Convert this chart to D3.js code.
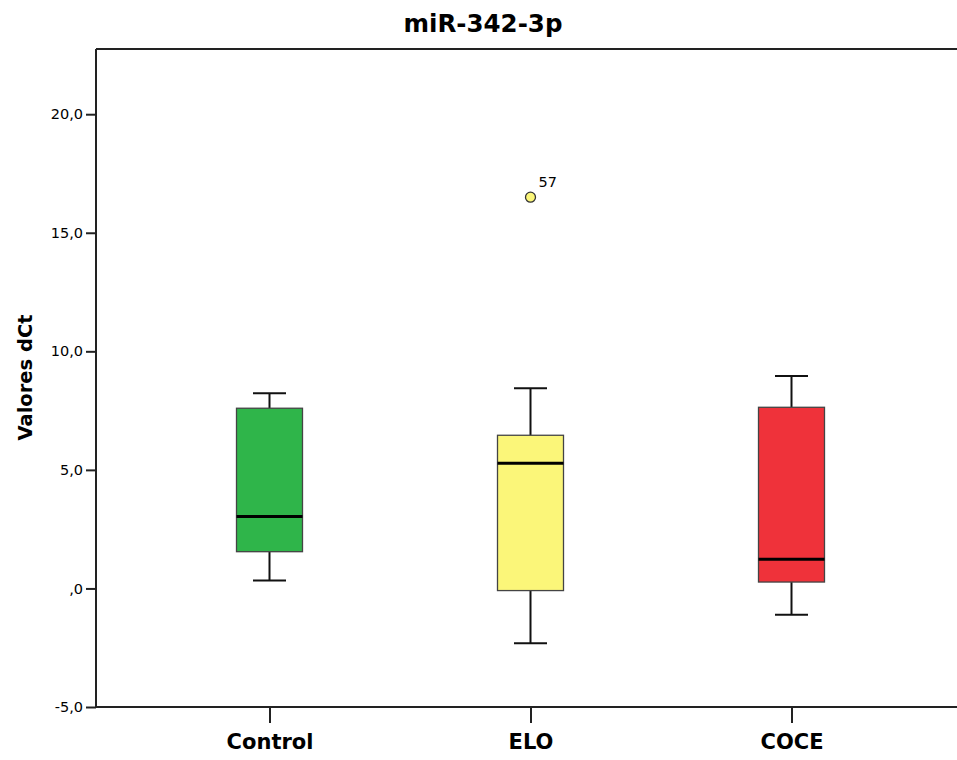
<!DOCTYPE html>
<html>
<head>
<meta charset="utf-8">
<script src="https://cdn.jsdelivr.net/npm/d3@7/dist/d3.min.js"></script>
<style>
  html, body { margin: 0; padding: 0; background: #fff; }
  svg { display: block; }
  text { font-family: "DejaVu Sans", sans-serif; fill: #000; }
</style>
</head>
<body>
<svg id="chart" width="957" height="760"></svg>
<script>
// ---- data ----
const categories = ["Control", "ELO", "COCE"];
const whiskerLow  = [0.33, -2.31, -1.11];
const q1          = [1.55, -0.09, 0.27];
const median      = [3.03, 5.28, 1.23];
const q3          = [7.60, 6.46, 7.64];
const whiskerHigh = [8.23, 8.44, 8.96];
const boxColors   = ["#2fb54a", "#fbf679", "#ef323a"];
const outlierGroup = ["ELO"];
const outlierValue = [16.5];
const outlierLabel = ["57"];
const yTicks = [-5, 0, 5, 10, 15, 20];
const yTickLabels = ["-5,0", ",0", "5,0", "10,0", "15,0", "20,0"];

const svg = d3.select("#chart");
const mLeft = 96, mRight = 957, mTop = 49, mBottom = 707;

const y = d3.scaleLinear().domain([-5, 22.75]).range([mBottom, mTop]);
const x = d3.scalePoint().domain(categories).range([269.5, 791.5]);

// frame top line
svg.append("line").attr("x1", mLeft).attr("x2", mRight).attr("y1", mTop).attr("y2", mTop)
  .attr("stroke", "#222").attr("stroke-width", 2);

// y axis
const yAxis = d3.axisLeft(y).tickValues(yTicks)
  .tickFormat((d, i) => yTickLabels[i]).tickSize(10).tickPadding(3);
const gy = svg.append("g").attr("transform", `translate(${mLeft},0)`).call(yAxis);
gy.select(".domain").attr("d", `M0,${mTop}V${mBottom}`).attr("stroke", "#222").attr("stroke-width", 2);
gy.selectAll(".tick line").attr("stroke", "#222").attr("stroke-width", 2);
gy.selectAll(".tick text").style("font-family", "DejaVu Sans").style("font-size", "14.5px").attr("fill", "#111");

// x axis
const xAxis = d3.axisBottom(x).tickSize(16).tickPadding(4);
const gx = svg.append("g").attr("transform", `translate(0,${mBottom})`).call(xAxis);
gx.select(".domain").attr("d", `M${mLeft},0H${mRight}`).attr("stroke", "#222").attr("stroke-width", 2);
gx.selectAll(".tick line").attr("stroke", "#222").attr("stroke-width", 2);
gx.selectAll(".tick text").style("font-family", "DejaVu Sans").style("font-size", "21px")
  .style("font-weight", "bold").attr("fill", "#000").attr("dy", "1.05em");

// boxes
const boxW = 66, capW = 33;
const groups = categories.map((c, i) => ({
  c, lo: whiskerLow[i], q1: q1[i], med: median[i], q3: q3[i], hi: whiskerHigh[i], col: boxColors[i]
}));
const g = svg.append("g").selectAll("g").data(groups).join("g");

// whiskers
g.append("line").attr("x1", d => x(d.c)).attr("x2", d => x(d.c))
  .attr("y1", d => y(d.q3)).attr("y2", d => y(d.hi)).attr("stroke", "#111").attr("stroke-width", 2);
g.append("line").attr("x1", d => x(d.c)).attr("x2", d => x(d.c))
  .attr("y1", d => y(d.q1)).attr("y2", d => y(d.lo)).attr("stroke", "#111").attr("stroke-width", 2);
g.append("line").attr("x1", d => x(d.c) - capW / 2).attr("x2", d => x(d.c) + capW / 2)
  .attr("y1", d => y(d.hi)).attr("y2", d => y(d.hi)).attr("stroke", "#111").attr("stroke-width", 2);
g.append("line").attr("x1", d => x(d.c) - capW / 2).attr("x2", d => x(d.c) + capW / 2)
  .attr("y1", d => y(d.lo)).attr("y2", d => y(d.lo)).attr("stroke", "#111").attr("stroke-width", 2);

// box
g.append("rect").attr("x", d => x(d.c) - boxW / 2).attr("width", boxW)
  .attr("y", d => y(d.q3)).attr("height", d => y(d.q1) - y(d.q3))
  .attr("fill", d => d.col).attr("stroke", "#444").attr("stroke-width", 1.3);

// median
g.append("line").attr("x1", d => x(d.c) - boxW / 2).attr("x2", d => x(d.c) + boxW / 2)
  .attr("y1", d => y(d.med)).attr("y2", d => y(d.med)).attr("stroke", "#000").attr("stroke-width", 3);

// outliers
outlierGroup.forEach((c, i) => {
  const ci = categories.indexOf(c);
  svg.append("circle").attr("cx", x(c)).attr("cy", y(outlierValue[i])).attr("r", 5)
    .attr("fill", boxColors[ci]).attr("stroke", "#333").attr("stroke-width", 1.3);
  svg.append("text").attr("x", x(c) + 8).attr("y", y(outlierValue[i]) - 10)
    .style("font-size", "14.5px").attr("fill", "#111").text(outlierLabel[i]);
});

// title
svg.append("text").attr("x", 483).attr("y", 32).attr("text-anchor", "middle")
  .style("font-size", "24.5px").style("font-weight", "bold").text("miR-342-3p");

// y label
svg.append("text").attr("transform", `translate(32,${(313 + 442) / 2}) rotate(-90)`)
  .attr("text-anchor", "middle").style("font-size", "19.5px").style("font-weight", "bold")
  .text("Valores dCt");
</script>
</body>
</html>
